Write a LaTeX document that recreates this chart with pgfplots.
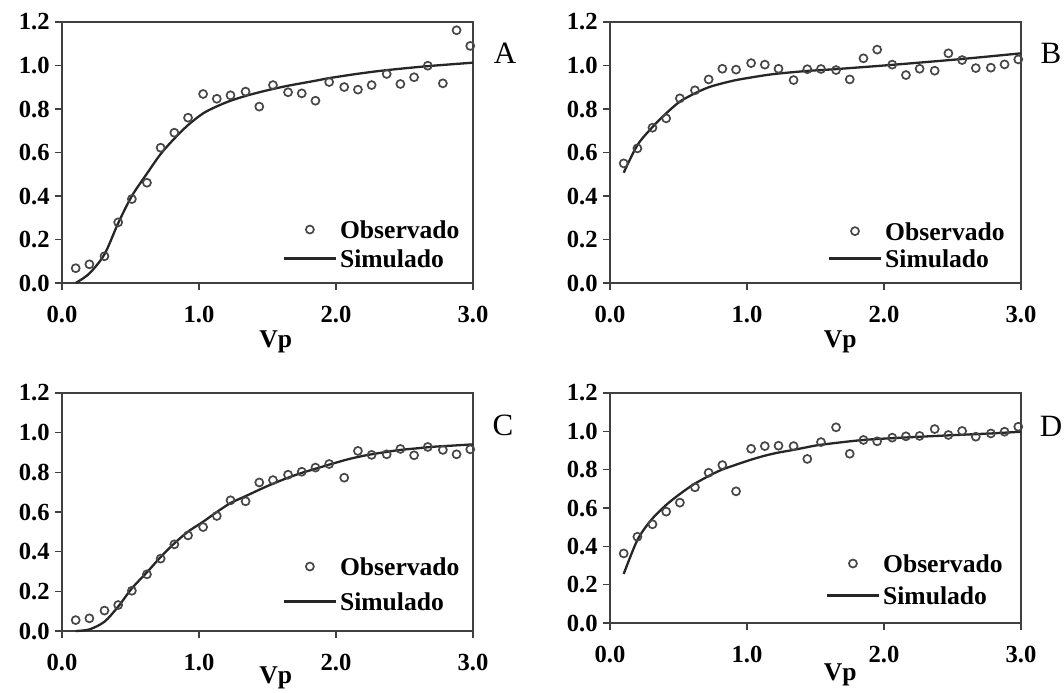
\documentclass[border=0pt]{standalone}
\usepackage{fontspec}
\setmainfont{Liberation Serif}
\usepackage{pgfplots}
\usepackage{pgfplotstable}
\pgfplotsset{compat=1.18}

% Observed values (relative concentration) for the four columns A-D
\pgfplotstableread{
vp   A     B     C     D
0.10 0.068 0.550 0.055 0.363
0.20 0.086 0.619 0.064 0.450
0.31 0.123 0.714 0.103 0.515
0.41 0.279 0.757 0.131 0.581
0.51 0.386 0.849 0.203 0.628
0.62 0.461 0.886 0.286 0.708
0.72 0.622 0.936 0.365 0.784
0.82 0.691 0.985 0.437 0.824
0.92 0.760 0.981 0.482 0.687
1.03 0.869 1.011 0.524 0.909
1.13 0.847 1.004 0.580 0.923
1.23 0.863 0.985 0.659 0.925
1.34 0.880 0.933 0.654 0.923
1.44 0.811 0.983 0.749 0.856
1.54 0.910 0.984 0.761 0.944
1.65 0.877 0.979 0.788 1.021
1.75 0.872 0.936 0.803 0.883
1.85 0.838 1.033 0.824 0.955
1.95 0.924 1.073 0.842 0.948
2.06 0.901 1.004 0.773 0.967
2.16 0.889 0.956 0.908 0.974
2.26 0.910 0.985 0.888 0.976
2.37 0.961 0.976 0.891 1.012
2.47 0.915 1.056 0.918 0.981
2.57 0.946 1.025 0.886 1.002
2.67 0.999 0.988 0.928 0.972
2.78 0.918 0.990 0.913 0.989
2.88 1.162 1.005 0.891 0.998
2.98 1.090 1.028 0.916 1.024
}\obsdata

\pgfplotsset{
  panel/.style={
    scale only axis, width=205.5pt,
    xmin=0, xmax=3, ymin=0, ymax=1.2,
    clip=false,
    xtick={0,1,2,3}, xticklabels={0.0,1.0,2.0,3.0},
    ytick={0,0.2,0.4,0.6,0.8,1.0,1.2},
    yticklabels={0.0,0.2,0.4,0.6,0.8,1.0,1.2},
    tick align=outside, xtick pos=left, ytick pos=left,
    major tick length=3.5pt,
    axis line style={black!75, line width=0.6pt},
    every tick/.style={black!75, line width=0.6pt},
    tick label style={font=\bfseries\fontsize{12.3}{14}\selectfont},
    yticklabel style={inner sep=0pt, xshift=-2.5pt},
    xticklabel style={inner sep=0pt, yshift=-8pt},
    xlabel={Vp},
    xlabel style={font=\bfseries\fontsize{12.8}{14}\selectfont, anchor=north, inner sep=0pt},
    legend image code/.code={\draw[mark repeat=2,mark phase=2,##1] plot coordinates {(0pt,0pt) (13pt,0pt) (26pt,0pt)};},
    legend style={draw=none, fill=none, anchor=south east, inner sep=0pt,
      font=\bfseries\fontsize{12.8}{14}\selectfont,
      nodes={inner sep=1pt, text height=9pt, text depth=0pt},
      /tikz/every odd column/.style={column sep=0.5pt}},
    legend cell align=left,
  },
  obs/.style={only marks, mark=o, mark size=2pt, black!72, mark options={line width=0.85pt}},
  sim/.style={smooth, no marks, black!85, line width=1.15pt},
}

\begin{document}
\begin{tikzpicture}
\useasboundingbox (0,0) rectangle (532pt,346pt);

% Column A
\begin{axis}[panel, height=130.5pt, at={(31pt,204.5pt)}, anchor=south west,
  xlabel style={at={(axis description cs:0.52,0)}, yshift=-23.5pt},
  legend style={at={(axis description cs:0.973,0.05)}, row sep=3.5pt}]
\addplot[obs] table[x=vp, y=A] {\obsdata};
\addplot[sim] coordinates {
(0.10,0.000) (0.20,0.044) (0.31,0.132) (0.41,0.275) (0.51,0.400) (0.62,0.503)
(0.72,0.593) (0.82,0.664) (0.92,0.726) (1.03,0.780) (1.13,0.812) (1.23,0.838)
(1.34,0.860) (1.44,0.877) (1.54,0.892) (1.65,0.907) (1.85,0.930) (1.95,0.942)
(2.16,0.962) (2.36,0.978) (2.67,0.997) (3.00,1.013)};
\legend{Observado,Simulado}
\end{axis}

% Column B
\begin{axis}[panel, height=130.5pt, at={(305pt,204.5pt)}, anchor=south west,
  xlabel style={at={(axis description cs:0.56,0)}, yshift=-23.5pt},
  legend style={at={(axis description cs:0.966,0.05)}, row sep=2.7pt}]
\addplot[obs] table[x=vp, y=B] {\obsdata};
\addplot[sim] coordinates {
(0.10,0.507) (0.20,0.634) (0.31,0.717) (0.41,0.780) (0.51,0.834) (0.62,0.872)
(0.72,0.900) (0.82,0.918) (0.92,0.933) (1.03,0.945) (1.13,0.955) (1.23,0.963)
(1.44,0.975) (1.64,0.983) (2.06,1.003) (2.57,1.030) (3.00,1.056)};
\legend{Observado,Simulado}
\end{axis}

% Column C
\begin{axis}[panel, height=119pt, at={(31pt,30.5pt)}, anchor=south west,
  xlabel style={at={(axis description cs:0.52,0)}, yshift=-17.5pt},
  legend style={at={(axis description cs:0.973,0.076)}, row sep=6.5pt}]
\addplot[obs] table[x=vp, y=C] {\obsdata};
\addplot[sim] coordinates {
(0.10,0.000) (0.20,0.008) (0.31,0.047) (0.41,0.123) (0.51,0.215) (0.62,0.296)
(0.72,0.373) (0.82,0.442) (0.92,0.501) (1.03,0.551) (1.13,0.600) (1.23,0.645)
(1.34,0.680) (1.49,0.728) (1.62,0.765) (1.74,0.795) (1.86,0.820) (1.98,0.845)
(2.10,0.868) (2.22,0.886) (2.34,0.900) (2.47,0.913) (2.59,0.921) (2.71,0.929)
(2.83,0.934) (3.00,0.941)};
\legend{Observado,Simulado}
\end{axis}

% Column D
\begin{axis}[panel, height=115pt, at={(305pt,34.5pt)}, anchor=south west,
  xlabel style={at={(axis description cs:0.56,0)}, yshift=-20pt},
  legend style={at={(axis description cs:0.961,0.07)}, row sep=5pt}]
\addplot[obs] table[x=vp, y=D] {\obsdata};
\addplot[sim] coordinates {
(0.10,0.256) (0.20,0.433) (0.30,0.537) (0.41,0.616) (0.51,0.673) (0.61,0.723)
(0.71,0.763) (0.81,0.798) (0.92,0.826) (1.02,0.850) (1.12,0.871) (1.22,0.888)
(1.33,0.902) (1.43,0.916) (1.54,0.930) (1.85,0.955) (2.16,0.968) (2.47,0.979)
(2.78,0.989) (3.00,0.998)};
\legend{Observado,Simulado}
\end{axis}

% Panel letters
\begin{scope}[every node/.style={font=\fontsize{15.5}{17}\selectfont, inner sep=0pt}]
\node at (252.5pt,319.5pt) {A};
\node at (525.5pt,319.5pt) {B};
\node at (251.5pt,133.5pt) {C};
\node at (525.5pt,133pt) {D};
\end{scope}
\end{tikzpicture}
\end{document}
